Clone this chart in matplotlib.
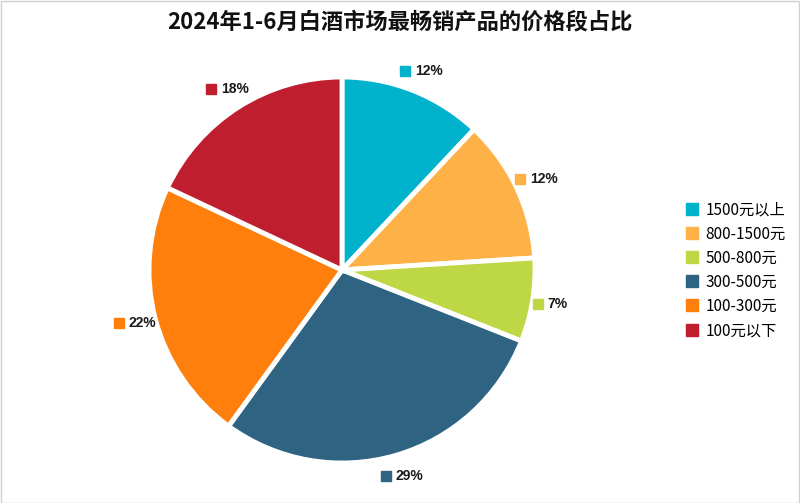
import matplotlib
matplotlib.use("Agg")
import matplotlib.pyplot as plt
import numpy as np
from matplotlib.lines import Line2D

plt.rcParams['font.family'] = ['Noto Sans CJK SC', 'DejaVu Sans']

title = "2024年1-6月白酒市场最畅销产品的价格段占比"
categories = ["1500元以上", "800-1500元", "500-800元", "300-500元", "100-300元", "100元以下"]
values = [12, 12, 7, 29, 22, 18]
colors = ["#00B2CB", "#FDB147", "#BED745", "#2E6382", "#FF7F0C", "#BE1E2D"]

W, H = 800, 503
fig = plt.figure(figsize=(W / 100, H / 100), dpi=100)
fig.patch.set_facecolor("white")

# border
fig.add_artist(plt.Rectangle((0.5 / W, 0.5 / H), 1 - 1.5 / W, 1 - 1.5 / H, transform=fig.transFigure,
                             fill=False, edgecolor="#D0D0D0", linewidth=1))

cx, cy, R = 342, 270, 193
ext = 1.35
ax = fig.add_axes([(cx - R * ext) / W, (H - cy - R * ext) / H, 2 * R * ext / W, 2 * R * ext / H])
wedges, _ = ax.pie(values, colors=colors, startangle=90, counterclock=False, radius=1,
                   wedgeprops=dict(edgecolor="white", linewidth=3.5))
ax.set_xlim(-ext, ext)
ax.set_ylim(-ext, ext)
ax.set_aspect("equal")
ax.axis("off")

total = sum(values)
for w, v, c in zip(wedges, values, colors):
    ang = np.deg2rad((w.theta1 + w.theta2) / 2)
    rl = 1.11
    x, y = rl * np.cos(ang), rl * np.sin(ang)
    ax.plot([x - 16 / R], [y], marker="s", markersize=6.5, color=c, linestyle="none", clip_on=False)
    ax.text(x - 6 / R, y, f"{v / total * 100:.0f}%", ha="left", va="center", fontsize=10,
            fontweight="bold", color="#1a1a1a", family=["Liberation Sans", "DejaVu Sans"])

fig.text(400 / W, 1 - 22 / H, title, ha="center", va="center", fontsize=16, fontweight="bold",
         color="#111111")

handles = [Line2D([0], [0], marker="s", color="none", markerfacecolor=c, markeredgecolor=c,
                  markersize=8) for c in colors]
fig.legend(handles, categories, loc="upper left", bbox_to_anchor=(680 / W, 1 - 195 / H),
           frameon=False, fontsize=11, handlelength=0.8, handletextpad=0.45, labelspacing=0.47,
           borderaxespad=0)

fig.savefig("out.png", dpi=100)
